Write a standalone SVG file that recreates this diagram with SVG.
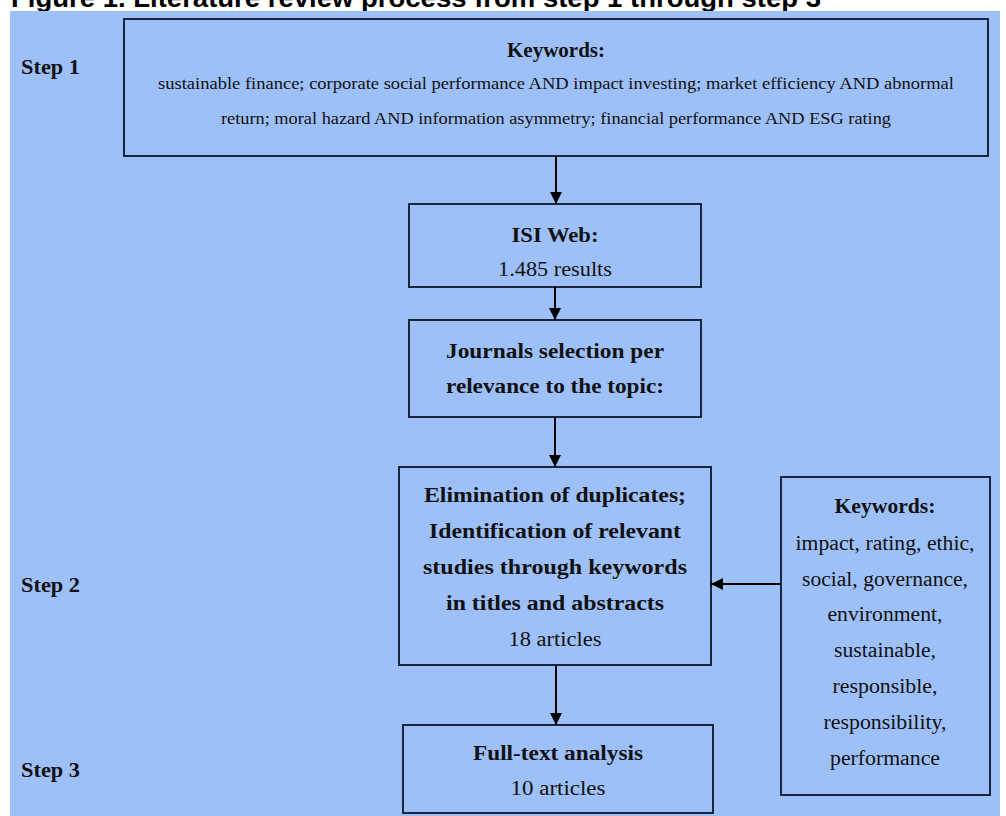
<svg xmlns="http://www.w3.org/2000/svg" width="1006" height="816" viewBox="0 0 1006 816">
<defs>
<style>
.bg{fill:#9ec0f8}
.box{fill:#9ec0f8;stroke:#17263a;stroke-width:2}
.t{font-family:"Liberation Serif","Times New Roman",serif;fill:#111;text-anchor:middle;font-size:20px}
.b{font-weight:bold}
.step{font-family:"Liberation Serif","Times New Roman",serif;font-weight:bold;fill:#111;font-size:22px}
.title{font-family:"Liberation Sans",Arial,sans-serif;font-weight:bold;fill:#000;font-size:26px}
.conn{stroke:#000;stroke-width:2;fill:none}
</style>
<marker id="ah" markerWidth="12" markerHeight="12" refX="12" refY="6" orient="auto" markerUnits="userSpaceOnUse">
<path d="M0,0 L12,6 L0,12 Z" fill="#000"/>
</marker>
</defs>
<rect x="0" y="0" width="1006" height="816" fill="#ffffff"/>
<text class="title" x="11" y="7" textLength="810" lengthAdjust="spacingAndGlyphs">Figure 1. Literature review process from step 1 through step 3</text>
<rect class="bg" x="10" y="11" width="990" height="805"/>

<g id="steps">
<text class="step" x="21" y="74" textLength="59" lengthAdjust="spacingAndGlyphs">Step 1</text>
<text class="step" x="21" y="592" textLength="59" lengthAdjust="spacingAndGlyphs">Step 2</text>
<text class="step" x="21" y="777" textLength="59" lengthAdjust="spacingAndGlyphs">Step 3</text>
</g>

<g id="node-keywords1">
<rect class="box" x="124" y="19" width="864" height="137"/>
<text class="t b" x="556" y="57" textLength="98" lengthAdjust="spacingAndGlyphs">Keywords:</text>
<text class="t" x="556" y="89" style="font-size:17px" textLength="796" lengthAdjust="spacingAndGlyphs">sustainable finance; corporate social performance AND impact investing; market efficiency AND abnormal</text>
<text class="t" x="556" y="124" style="font-size:17px" textLength="670" lengthAdjust="spacingAndGlyphs">return; moral hazard AND information asymmetry; financial performance AND ESG rating</text>
</g>

<g id="node-isi">
<rect class="box" x="409" y="204" width="292" height="83"/>
<text class="t b" x="555" y="242" textLength="87" lengthAdjust="spacingAndGlyphs">ISI Web:</text>
<text class="t" x="555" y="276" textLength="114" lengthAdjust="spacingAndGlyphs">1.485 results</text>
</g>

<g id="node-journals">
<rect class="box" x="409" y="320" width="292" height="97"/>
<text class="t b" x="555" y="358" textLength="218" lengthAdjust="spacingAndGlyphs">Journals selection per</text>
<text class="t b" x="555" y="393" textLength="218" lengthAdjust="spacingAndGlyphs">relevance to the topic:</text>
</g>

<g id="node-elimination">
<rect class="box" x="399" y="467" width="312" height="198"/>
<text class="t b" x="555" y="502" textLength="262" lengthAdjust="spacingAndGlyphs">Elimination of duplicates;</text>
<text class="t b" x="555" y="538" textLength="252" lengthAdjust="spacingAndGlyphs">Identification of relevant</text>
<text class="t b" x="555" y="574" textLength="264" lengthAdjust="spacingAndGlyphs">studies through keywords</text>
<text class="t b" x="555" y="610" textLength="218" lengthAdjust="spacingAndGlyphs">in titles and abstracts</text>
<text class="t" x="555" y="646" textLength="93" lengthAdjust="spacingAndGlyphs">18 articles</text>
</g>

<g id="node-keywords2">
<rect class="box" x="781" y="477" width="209" height="318"/>
<text class="t b" x="885" y="513" textLength="101" lengthAdjust="spacingAndGlyphs">Keywords:</text>
<text class="t" x="885" y="550" textLength="179" lengthAdjust="spacingAndGlyphs">impact, rating, ethic,</text>
<text class="t" x="885" y="586" textLength="166" lengthAdjust="spacingAndGlyphs">social, governance,</text>
<text class="t" x="885" y="621" textLength="115" lengthAdjust="spacingAndGlyphs">environment,</text>
<text class="t" x="885" y="657" textLength="102" lengthAdjust="spacingAndGlyphs">sustainable,</text>
<text class="t" x="885" y="693" textLength="105" lengthAdjust="spacingAndGlyphs">responsible,</text>
<text class="t" x="885" y="729" textLength="123" lengthAdjust="spacingAndGlyphs">responsibility,</text>
<text class="t" x="885" y="765" textLength="110" lengthAdjust="spacingAndGlyphs">performance</text>
</g>

<g id="node-fulltext">
<rect class="box" x="403" y="725" width="310" height="88"/>
<text class="t b" x="558" y="760" textLength="170" lengthAdjust="spacingAndGlyphs">Full-text analysis</text>
<text class="t" x="558" y="795" textLength="95" lengthAdjust="spacingAndGlyphs">10 articles</text>
</g>

<g id="connectors">
<line class="conn" x1="556" y1="156" x2="556" y2="204" marker-end="url(#ah)"/>
<line class="conn" x1="555" y1="287" x2="555" y2="320" marker-end="url(#ah)"/>
<line class="conn" x1="555" y1="417" x2="555" y2="467" marker-end="url(#ah)"/>
<line class="conn" x1="781" y1="584" x2="711" y2="584" marker-end="url(#ah)"/>
<line class="conn" x1="556" y1="665" x2="556" y2="725" marker-end="url(#ah)"/>
</g>
</svg>
